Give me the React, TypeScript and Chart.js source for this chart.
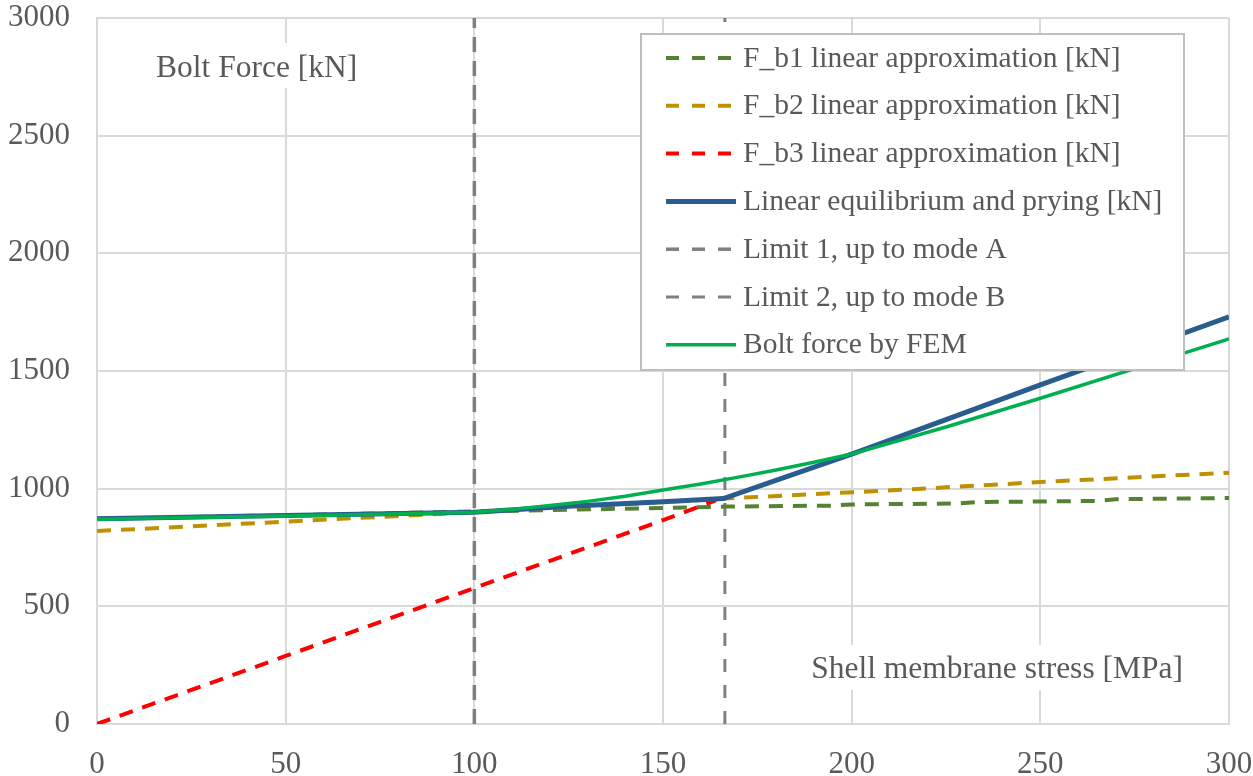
import React, { useEffect, useRef } from "react";
import { Chart, registerables } from "chart.js";

Chart.register(...registerables);

const FONT = '"Liberation Serif", "Times New Roman", Times, serif';

// ---- data ----
const seriesNames = [
  "F_b1 linear approximation [kN]",
  "F_b2 linear approximation [kN]",
  "F_b3 linear approximation [kN]",
  "Linear equilibrium and prying [kN]",
  "Limit 1, up to mode A",
  "Limit 2, up to mode B",
  "Bolt force by FEM",
];

const fb1X = [0, 50, 100, 150, 167, 195, 200, 228, 233, 265, 270, 300];
const fb1Y = [872, 887, 903, 918, 924, 928, 933, 937, 943, 948, 955, 960];

const fb2X = [0, 50, 100, 150, 170, 213, 250, 300];
const fb2Y = [820, 860, 900, 943, 961, 995, 1028, 1068];

const fb3X = [0, 50, 100, 150, 164];
const fb3Y = [0, 289, 578, 866, 950];

const eqX = [0, 50, 100, 125, 150, 166, 200, 225, 250, 275, 300];
const eqY = [872, 886, 900, 925, 944, 958, 1147, 1293, 1441, 1585, 1730];

const limit1X = [100, 100];
const limit2X = [166.4, 166.4];
const limitY = [0, 3000];

const femX = [0, 25, 50, 75, 100, 110, 120, 130, 140, 150, 160, 170, 180, 190, 200, 225, 250, 275, 300];
const femY = [870, 877, 884, 891, 900, 912, 928, 946, 968, 994, 1020, 1049, 1079, 1112, 1147, 1262, 1384, 1510, 1636];

const xTicks = [0, 50, 100, 150, 200, 250, 300];
const yTicks = [0, 500, 1000, 1500, 2000, 2500, 3000];

const yAxisTitle = "Bolt Force [kN]";
const xAxisTitle = "Shell membrane stress [MPa]";

const pts = (xs: number[], ys: number[]) => xs.map((x, i) => ({ x, y: ys[i] }));

const TEXT_COLOR = "#595959";
const GRID_COLOR = "#D9D9D9";

const annotationPlugin = {
  id: "innerTitles",
  beforeDatasetsDraw(chart: any) {
    const { ctx, chartArea } = chart;
    ctx.save();
    ctx.font = `31.5px ${FONT}`;
    ctx.textBaseline = "alphabetic";
    // y title box (top-left inside the plot)
    const yx = chartArea.left + 59;
    const yb = chartArea.top + 59;
    let w = ctx.measureText(yAxisTitle).width;
    ctx.fillStyle = "#ffffff";
    ctx.fillRect(yx - 10, yb - 34, w + 20, 45);
    ctx.fillStyle = TEXT_COLOR;
    ctx.fillText(yAxisTitle, yx, yb);
    // x title box (bottom-right inside the plot)
    w = ctx.measureText(xAxisTitle).width;
    const xr = chartArea.right - 46;
    const xb = chartArea.bottom - 46;
    ctx.fillStyle = "#ffffff";
    ctx.fillRect(xr - w - 10, xb - 33, w + 20, 45);
    ctx.fillStyle = TEXT_COLOR;
    ctx.fillText(xAxisTitle, xr - w, xb);
    ctx.restore();
  },
};

const legendPlugin = {
  id: "boxLegend",
  afterDatasetsDraw(chart: any) {
    const { ctx, chartArea } = chart;
    const x0 = 641;
    const y0 = chartArea.top + 16;
    const w = chartArea.right - 45 - x0;
    const h = 336;
    ctx.save();
    ctx.fillStyle = "#ffffff";
    ctx.fillRect(x0, y0, w, h);
    ctx.strokeStyle = "#BFBFBF";
    ctx.lineWidth = 2;
    ctx.strokeRect(x0, y0, w, h);
    chart.data.datasets.forEach((ds: any, i: number) => {
      const cy = y0 + 24 + 47.8 * i;
      ctx.beginPath();
      ctx.setLineDash(ds.borderDash && ds.borderDash.length ? [13, 13] : []);
      ctx.strokeStyle = ds.borderColor;
      ctx.lineWidth = ds.borderWidth;
      ctx.lineCap = "butt";
      ctx.moveTo(x0 + 25, cy);
      ctx.lineTo(x0 + 95, cy);
      ctx.stroke();
      ctx.setLineDash([]);
      ctx.fillStyle = TEXT_COLOR;
      ctx.font = `29.5px ${FONT}`;
      ctx.textBaseline = "alphabetic";
      ctx.fillText(ds.label, x0 + 102, cy + 8.5);
    });
    ctx.restore();
  },
};

const zeroPad = (s: any) => {
  s.paddingTop = 0;
  s.paddingBottom = 0;
  s.paddingLeft = 0;
  s.paddingRight = 0;
};

export default function App() {
  const canvasRef = useRef<HTMLCanvasElement | null>(null);

  useEffect(() => {
    document.body.style.margin = "0";
    const canvas = canvasRef.current;
    if (!canvas) return;

    const line = (
      idx: number,
      xs: number[],
      ys: number[],
      color: string,
      width: number,
      dash: number[],
      order: number
    ) => ({
      label: seriesNames[idx],
      data: pts(xs, ys),
      borderColor: color,
      backgroundColor: color,
      borderWidth: width,
      borderDash: dash,
      borderCapStyle: "butt",
      pointRadius: 0,
      pointHoverRadius: 0,
      showLine: true,
      fill: false,
      tension: 0,
      order,
    });

    const chart = new Chart(canvas, {
      type: "scatter",
      data: {
        datasets: [
          line(0, fb1X, fb1Y, "#548235", 4, [14, 10], 4),
          line(1, fb2X, fb2Y, "#BF9000", 4, [14, 10], 3),
          line(2, fb3X, fb3Y, "#FF0000", 4, [14, 10], 2),
          line(3, eqX, eqY, "#2A5D8F", 5, [], 1),
          line(4, limit1X, limitY, "#7F7F7F", 3.5, [15, 9], 5),
          line(5, limit2X, limitY, "#7F7F7F", 3, [13, 13], 6),
          line(6, femX, femY, "#00B050", 3.5, [], 0),
        ] as any,
      },
      options: {
        animation: false,
        responsive: true,
        maintainAspectRatio: false,
        layout: { padding: { top: 18, right: 24, left: 0, bottom: 0 } },
        plugins: {
          legend: { display: false },
          tooltip: { enabled: false },
        },
        scales: {
          x: {
            type: "linear",
            min: xTicks[0],
            max: xTicks[xTicks.length - 1],
            afterBuildTicks: (s: any) => {
              s.ticks = xTicks.map((v) => ({ value: v }));
            },
            ticks: {
              font: { family: FONT, size: 31 },
              color: TEXT_COLOR,
              padding: 22,
              maxRotation: 0,
              callback: (v: any) => String(v),
            },
            grid: { color: GRID_COLOR, lineWidth: 2, drawTicks: false, tickLength: 0 },
            border: { display: true, color: GRID_COLOR, width: 2 },
            afterFit: (s: any) => {
              s.height = 52;
              zeroPad(s);
            },
          },
          y: {
            type: "linear",
            min: yTicks[0],
            max: yTicks[yTicks.length - 1],
            afterBuildTicks: (s: any) => {
              s.ticks = yTicks.map((v) => ({ value: v }));
            },
            ticks: {
              font: { family: FONT, size: 31 },
              color: TEXT_COLOR,
              padding: 27,
              callback: (v: any) => String(v),
            },
            grid: { color: GRID_COLOR, lineWidth: 2, drawTicks: false, tickLength: 0 },
            border: { display: true, color: GRID_COLOR, width: 2 },
            afterFit: (s: any) => {
              s.width = 97;
              zeroPad(s);
            },
          },
        },
      } as any,
      plugins: [annotationPlugin, legendPlugin],
    });

    return () => {
      chart.destroy();
    };
  }, []);

  return (
    <div style={{ width: "1253px", height: "776px", position: "relative" }}>
      <canvas ref={canvasRef} />
    </div>
  );
}
